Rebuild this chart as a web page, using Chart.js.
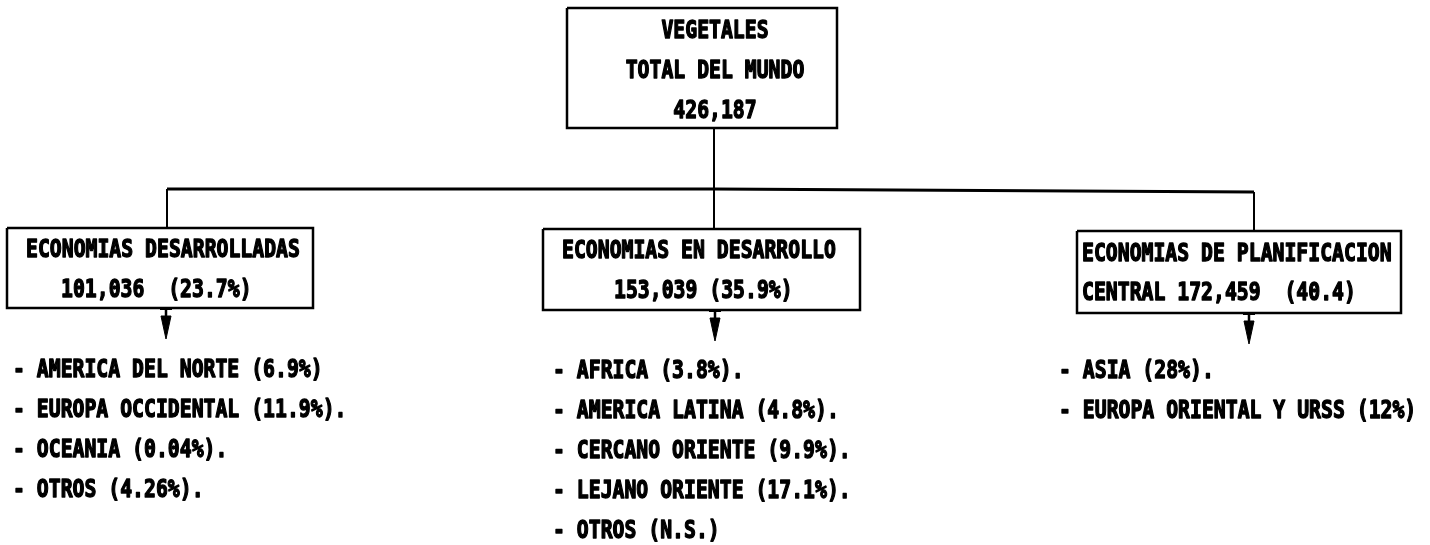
<!DOCTYPE html>
<html>
<head>
<meta charset="utf-8">
<script src="https://cdn.jsdelivr.net/npm/chart.js@4"></script>
<style>
  html, body { margin: 0; padding: 0; background: #fff; }
  #wrap { width: 1430px; height: 545px; }
</style>
</head>
<body>
<div id="wrap"><canvas id="treeChart" width="1430" height="545"></canvas></div>
<script>
// Data
const rootTitle = ['VEGETALES', 'TOTAL DEL MUNDO'];
const rootTotal = '426,187';

const groupTitles = [
    ['ECONOMIAS DESARROLLADAS'],
    ['ECONOMIAS EN DESARROLLO'],
    ['ECONOMIAS DE PLANIFICACION', 'CENTRAL']
];
const groupTotals = ['101,036', '153,039', '172,459'];
const groupShares = ['(23.7%)', '(35.9%)', '(40.4)'];

const regionNames = [
    ['AMERICA DEL NORTE', 'EUROPA OCCIDENTAL', 'OCEANIA', 'OTROS'],
    ['AFRICA', 'AMERICA LATINA', 'CERCANO ORIENTE', 'LEJANO ORIENTE', 'OTROS'],
    ['ASIA', 'EUROPA ORIENTAL Y URSS']
];
const regionShares = [
    ['(6.9%)', '(11.9%).', '(0.04%).', '(4.26%).'],
    ['(3.8%).', '(4.8%).', '(9.9%).', '(17.1%).', '(N.S.)'],
    ['(28%).', '(12%)']
];

document.addEventListener('DOMContentLoaded', function() {
    const ctx = document.getElementById('treeChart');

    // layout of the diagram (canvas units)
    const rootBox = { left: 567, right: 837, top: 8, bottom: 128, textY: 31.5 };
    const trunkX = 714;
    const barY = 189;
    const groupBoxes = [
        { left: 7, right: 313, top: 228, bottom: 308, drop: 167, arrow: 166, dropTop: 189, textX: [26, 61], textY: 250.5 },
        { left: 543, right: 860, top: 229, bottom: 310, drop: 714, arrow: 715, dropTop: 189, textX: [562, 614], textY: 251.5 },
        { left: 1077, right: 1401, top: 231, bottom: 313, drop: 1254, arrow: 1249, dropTop: 192, textX: [1082, 1082], textY: 254 }
    ];
    const listX = [13, 553, 1059];
    const listTop = [370, 371, 371.5];
    const listStep = 40;

    function boxPath(b) {
        return [
            { x: b.left, y: b.top }, { x: b.right, y: b.top },
            { x: b.right, y: b.bottom }, { x: b.left, y: b.bottom },
            { x: b.left, y: b.top }
        ];
    }

    const lineStyle = {
        type: 'line',
        showLine: true,
        borderColor: '#000',
        borderWidth: 2.5,
        pointRadius: 0,
        fill: false,
        tension: 0
    };

    const datasets = [];
    datasets.push(Object.assign({ data: boxPath(rootBox) }, lineStyle));
    // trunk from root down to middle box
    datasets.push(Object.assign({ data: [{ x: trunkX, y: rootBox.bottom }, { x: trunkX, y: groupBoxes[1].top }] }, lineStyle, { borderWidth: 2 }));
    // horizontal bar
    datasets.push(Object.assign({ data: [
        { x: groupBoxes[0].drop, y: groupBoxes[0].dropTop },
        { x: trunkX, y: barY },
        { x: groupBoxes[2].drop, y: groupBoxes[2].dropTop }
    ] }, lineStyle, { borderWidth: 3 }));

    groupBoxes.forEach(function(b, i) {
        datasets.push(Object.assign({ data: boxPath(b) }, lineStyle));
        if (i !== 1) {
            datasets.push(Object.assign({ data: [{ x: b.drop, y: b.dropTop }, { x: b.drop, y: b.top }] }, lineStyle, { borderWidth: 2 }));
        }
        // small cap + arrow stem
        datasets.push(Object.assign({ data: [{ x: b.arrow - 6, y: b.bottom + 1 }, { x: b.arrow + 6, y: b.bottom + 1 }] }, lineStyle, { borderWidth: 2 }));
        datasets.push(Object.assign({ data: [{ x: b.arrow, y: b.bottom }, { x: b.arrow, y: b.bottom + 10 }] }, lineStyle, { borderWidth: 2.5 }));
        // arrow head
        datasets.push(Object.assign({}, lineStyle, {
            data: [
                { x: b.arrow - 5, y: b.bottom + 8 }, { x: b.arrow + 5, y: b.bottom + 8 },
                { x: b.arrow, y: b.bottom + 31 }, { x: b.arrow - 5, y: b.bottom + 8 }
            ],
            borderWidth: 1,
            backgroundColor: '#000',
            fill: 'shape'
        }));
    });

    const font = 'bold 19.8px "DejaVu Sans Mono", "Liberation Mono", monospace';
    const stretch = 1.27;

    const textPlugin = {
        id: 'treeText',
        afterDatasetsDraw(chart) {
            const c = chart.ctx;
            const sx = chart.scales.x;
            const sy = chart.scales.y;
            const px = v => sx.getPixelForValue(v);
            const py = v => sy.getPixelForValue(v);

            function put(t, x, y, align) {
                c.save();
                c.translate(px(x), py(y));
                c.scale(1, stretch);
                c.textAlign = align;
                c.textBaseline = 'middle';
                c.font = font;
                c.fillStyle = '#000';
                c.strokeStyle = '#000';
                c.lineWidth = 1.1;
                c.lineJoin = 'round';
                c.fillText(t, 0, 0);
                c.strokeText(t, 0, 0);
                c.restore();
            }

            // root box
            const rootLines = rootTitle.concat([rootTotal]);
            rootLines.forEach(function(t, k) {
                put(t, trunkX + 1, rootBox.textY + k * 40, 'center');
            });

            // group boxes
            groupBoxes.forEach(function(b, i) {
                const title = groupTitles[i];
                const second = (title[1] ? title[1] + ' ' : '') + groupTotals[i] +
                    (i === 1 ? ' ' : '  ') + groupShares[i];
                put(title[0], b.textX[0], b.textY, 'left');
                put(second, b.textX[1], b.textY + 39.5, 'left');
            });

            // region lists
            regionNames.forEach(function(names, i) {
                names.forEach(function(n, k) {
                    put('- ' + n + ' ' + regionShares[i][k], listX[i], listTop[i] + k * listStep, 'left');
                });
            });
        }
    };

    new Chart(ctx, {
        type: 'scatter',
        data: { datasets: datasets },
        options: {
            responsive: false,
            animation: false,
            layout: { padding: 0, autoPadding: false },
            plugins: {
                legend: { display: false },
                tooltip: { enabled: false }
            },
            scales: {
                x: { type: 'linear', min: 0, max: 1430, display: false },
                y: { type: 'linear', min: 0, max: 545, reverse: true, display: false }
            }
        },
        plugins: [textPlugin]
    });
});
</script>
</body>
</html>
